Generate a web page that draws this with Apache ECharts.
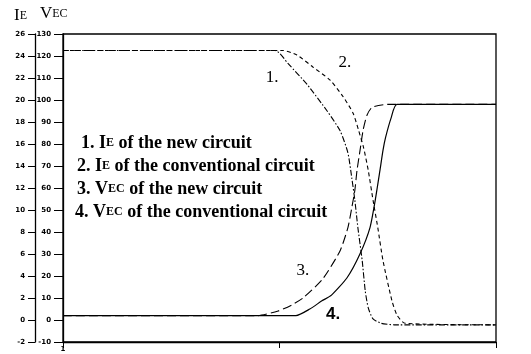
<!DOCTYPE html>
<html>
<head>
<meta charset="utf-8">
<script src="https://cdn.jsdelivr.net/npm/echarts@6/dist/echarts.min.js"></script>
<style>
  html, body { margin: 0; padding: 0; background: #fff; }
  #chart { width: 531px; height: 354px; }
</style>
</head>
<body>
<div id="chart"></div>
<script>
// Time axis (arbitrary units, left edge = 0, right edge = 100)
const xTicks = [0, 50, 100];
const xTickLabels = ['1', '', ''];

// Curve 1: emitter current IE of the new circuit (IE axis)
const ieNewT = [0, 49, 52.0, 56.4, 61, 64, 65.8, 66.7, 67.4, 68.1, 69.1, 69.8, 70.5, 71.6, 73.5, 76.5, 100];
const ieNewV = [24.5, 24.5, 23.3, 21.4, 19.0, 17.2, 15.2, 12.9, 10.9, 8.4, 5.4, 2.65, 1.1, 0.1, -0.3, -0.44, -0.44];

// Curve 2: IE of the conventional circuit (IE axis)
const ieConvT = [0, 50.8, 54.0, 57.7, 61.7, 64.7, 67.0, 68.3, 69.4, 70.5, 71.6, 72.7, 73.9, 76.0, 77.2, 79, 100];
const ieConvV = [24.5, 24.5, 24.1, 23.0, 21.8, 20.3, 18.8, 17.2, 15.7, 13.6, 10.9, 8.4, 5.4, 1.7, 0.4, -0.3, -0.44];

// Curve 3: VEC of the new circuit (VEC axis)
const vecNewT = [0, 45.0, 49.7, 52.9, 55.5, 60.0, 64.0, 65.8, 66.7, 67.4, 67.9, 68.6, 69.3, 70.2, 71.4, 74.8, 100];
const vecNewV = [2, 2, 4.1, 6.9, 10.1, 18.7, 31.5, 42, 51.1, 58.9, 68, 77.1, 86.2, 93.1, 96.7, 98, 98];

// Curve 4: VEC of the conventional circuit (VEC axis)
const vecConvT = [0, 53.8, 57.0, 59.8, 62.0, 65.6, 68.6, 70.9, 72.1, 73.2, 73.9, 74.5, 75.8, 77.1, 100];
const vecConvV = [2, 2, 5.0, 8.7, 11.3, 19.2, 30.1, 42, 54.3, 68, 77.1, 83.0, 92.0, 98, 98];

// Axis ranges
const vecRange = [-10, 130, 10];
const ieRange = [-2, 26, 2];

// Curve number tags: [time, value]
const tag1 = [48.3, 22.0];
const tag2 = [65.1, 23.4];
const tag3 = [55.4, 22.4];
const tag4 = [62.4, 2.8];

// Legend lines
const legendLines = [
  ['1. ', 'I', 'E', ' of the new circuit'],
  ['2. ', 'I', 'E', ' of the conventional circuit'],
  ['3. ', 'V', 'EC', ' of the new circuit'],
  ['4. ', 'V', 'EC', ' of the conventional circuit']
];

const zip = (t, v) => t.map((x, i) => [x, v[i]]);
const serif = '"Liberation Serif", "DejaVu Serif", serif';

function tag(text, coord, font, weight) {
  return {
    symbol: 'circle',
    symbolSize: 2,
    silent: true,
    itemStyle: { color: 'rgba(0,0,0,0)' },
    data: [{
      coord: coord,
      label: {
        show: true, formatter: text, position: 'inside',
        color: '#000', fontFamily: font, fontSize: 17, fontWeight: weight
      }
    }]
  };
}

const baseLine = (type, w) => ({ color: '#000', width: w, type: type });

const chart = echarts.init(document.getElementById('chart'), null, { renderer: 'canvas' });

const legendGraphics = legendLines.map((l, i) => ({
  type: 'text',
  left: [81, 77, 77, 75][i],
  top: 134 + i * 23,
  style: {
    text: '{n|' + l[0] + '}{c|' + l[1] + '}{s|' + l[2] + '}{n|' + l[3] + '}',
    rich: {
      n: { fontFamily: serif, fontSize: 18, fontWeight: 'bold', fill: '#000' },
      c: { fontFamily: serif, fontSize: 18, fontWeight: 'bold', fill: '#000' },
      s: { fontFamily: serif, fontSize: 12, fontWeight: 'bold', fill: '#000' }
    }
  }
}));

chart.setOption({
  animation: false,
  backgroundColor: '#fff',
  grid: {
    left: 63, right: 35, top: 34, bottom: 12,
    show: true, borderColor: '#000', borderWidth: 1.3, backgroundColor: 'transparent'
  },
  xAxis: {
    type: 'value', min: xTicks[0], max: xTicks[xTicks.length - 1], interval: 50,
    axisLine: { show: true, onZero: false, lineStyle: { color: '#000', width: 1.3 } },
    axisTick: { show: true, inside: false, length: 6, lineStyle: { color: '#000' } },
    axisLabel: {
      show: true, margin: 4, fontSize: 7, fontWeight: 'bold', color: '#000',
      fontFamily: 'DejaVu Sans',
      formatter: v => xTickLabels[xTicks.indexOf(v)] || ''
    },
    splitLine: { show: false }
  },
  yAxis: [
    {
      type: 'value', position: 'left', offset: 0,
      min: vecRange[0], max: vecRange[1], interval: vecRange[2],
      axisLine: { show: true, onZero: false, lineStyle: { color: '#000', width: 1.3 } },
      axisTick: { show: true, length: 9, lineStyle: { color: '#000', width: 1 } },
      axisLabel: { margin: 12, fontSize: 7, fontWeight: 'bold', color: '#000', fontFamily: 'DejaVu Sans' },
      splitLine: { show: false }
    },
    {
      type: 'value', position: 'left', offset: 28,
      min: ieRange[0], max: ieRange[1], interval: ieRange[2],
      axisLine: { show: true, onZero: false, lineStyle: { color: '#000', width: 1.3 } },
      axisTick: { show: true, length: 7, lineStyle: { color: '#000', width: 1 } },
      axisLabel: { margin: 10, fontSize: 7, fontWeight: 'bold', color: '#000', fontFamily: 'DejaVu Sans' },
      splitLine: { show: false }
    }
  ],
  graphic: [
    {
      type: 'text', left: 14, top: 7,
      style: {
        text: '{c|I}{s|E}',
        rich: {
          c: { fontFamily: serif, fontSize: 17, fill: '#000' },
          s: { fontFamily: serif, fontSize: 12, fill: '#000' }
        }
      }
    },
    {
      type: 'text', left: 40, top: 5,
      style: {
        text: '{c|V}{s|EC}',
        rich: {
          c: { fontFamily: serif, fontSize: 17, fill: '#000' },
          s: { fontFamily: serif, fontSize: 12, fill: '#000' }
        }
      }
    }
  ].concat(legendGraphics),
  series: [
    {
      name: 'IE new', type: 'line', yAxisIndex: 1, showSymbol: false,
      smooth: 0.2,
      data: zip(ieNewT, ieNewV),
      lineStyle: baseLine([6, 2, 1.5, 2], 1.1),
      markPoint: tag('1.', tag1, serif, 'normal')
    },
    {
      name: 'IE conventional', type: 'line', yAxisIndex: 1, showSymbol: false,
      smooth: 0.2,
      data: zip(ieConvT, ieConvV),
      lineStyle: baseLine([4, 3], 1.1),
      markPoint: tag('2.', tag2, serif, 'normal')
    },
    {
      name: 'VEC new', type: 'line', yAxisIndex: 0, showSymbol: false,
      smooth: 0.2,
      data: zip(vecNewT, vecNewV),
      lineStyle: baseLine([9, 4], 1.1),
      markPoint: tag('3.', tag3, serif, 'normal')
    },
    {
      name: 'VEC conventional', type: 'line', yAxisIndex: 0, showSymbol: false,
      smooth: 0.2,
      data: zip(vecConvT, vecConvV),
      lineStyle: baseLine('solid', 1.2),
      markPoint: tag('4.', tag4, '"Liberation Sans", Arial, sans-serif', 'bold')
    }
  ]
});
</script>
</body>
</html>
